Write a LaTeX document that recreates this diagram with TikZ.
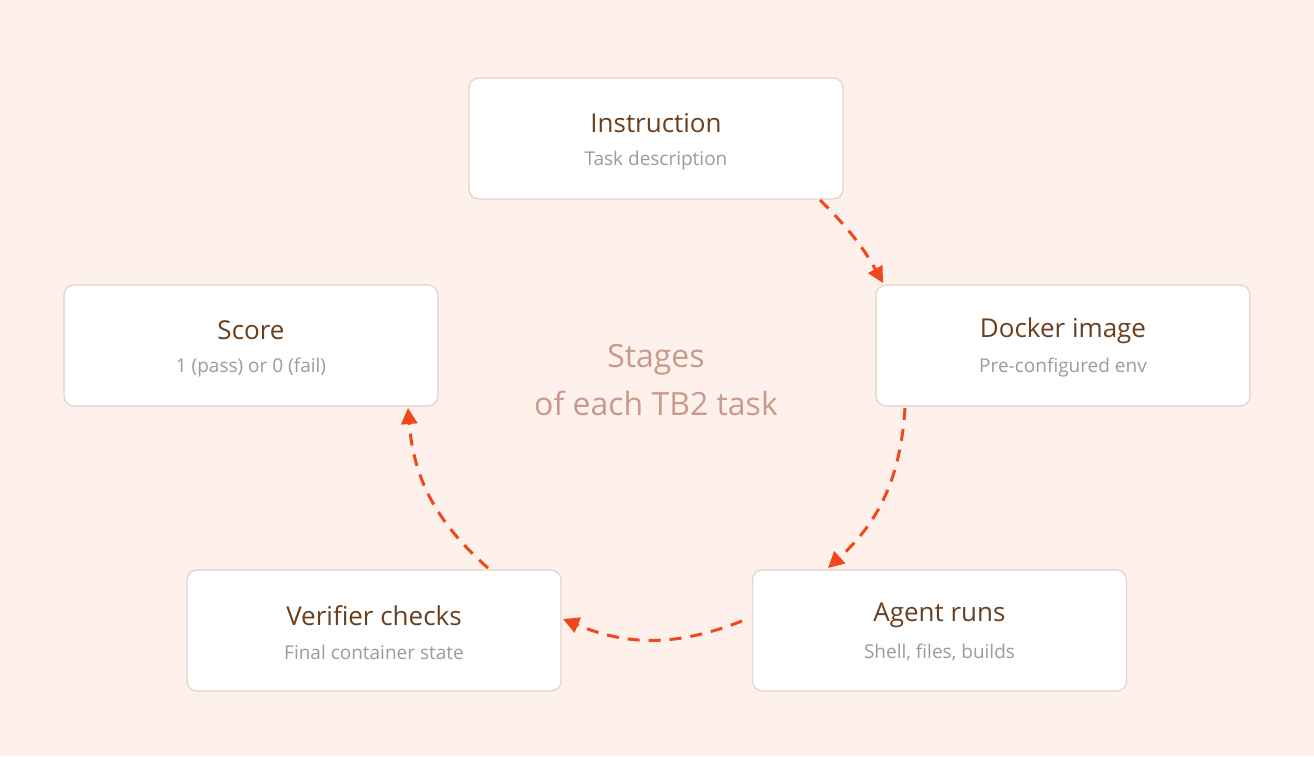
\documentclass[tikz,border=0pt]{standalone}
\usepackage{fontspec}
\setmainfont{Open Sans}
\usetikzlibrary{arrows.meta}
\definecolor{bg}{HTML}{FEF1EC}
\definecolor{bord}{HTML}{E4D2CB}
\definecolor{ttl}{HTML}{6B3F1D}
\definecolor{sub}{HTML}{9B9B9B}
\definecolor{mid}{HTML}{C99A8A}
\definecolor{arr}{HTML}{F2461B}
\begin{document}
\begin{tikzpicture}[x=1pt,y=-1pt,
  box/.style={draw=bord,line width=1.2pt,fill=white,rounded corners=10pt,minimum width=374pt,minimum height=121pt,inner sep=0pt},
  ttlt/.style={text=ttl,font=\fontsize{26}{30}\selectfont},
  subt/.style={text=sub,font=\fontsize{19}{22}\selectfont},
  flow/.style={draw=arr,line width=3pt,dash pattern=on 12pt off 9pt,-{Triangle[length=16pt,width=16pt]}}]
\fill[bg] (0,0) rectangle (1314,756);
\foreach \n/\x/\y/\t/\s in {ins/656/138.5/Instruction/Task description,
  doc/1063/345.5/Docker image/Pre-configured env,
  sco/251/345.5/Score/1 (pass) or 0 (fail),
  age/939.5/630.5/Agent runs/{Shell, files, builds},
  ver/374/630.5/Verifier checks/Final container state}{
  \node[box] (\n) at (\x,\y) {};
  \node[ttlt] (\n t) at (\x,\y-15) {\t};
  \node[subt] (\n s) at (\x,\y+22) {\s};
}
\node[text=mid,font=\fontsize{32}{48}\selectfont,align=center] (mid) at (656,380) {Stages\\of each TB2 task};
\coordinate (a1) at (820,200); \coordinate (b1) at (883,283);
\coordinate (a2) at (905,408); \coordinate (b2) at (828,568);
\coordinate (a3) at (742,621); \coordinate (b3) at (563,619);
\coordinate (a4) at (488,568); \coordinate (b4) at (408,408);
\draw[flow] (a1) to[bend left=8] (b1);
\draw[flow] (a2) to[bend left=22] (b2);
\draw[flow] (a3) to[bend left=22] (b3);
\draw[flow] (a4) to[bend left=22] (b4);
\end{tikzpicture}
\end{document}
